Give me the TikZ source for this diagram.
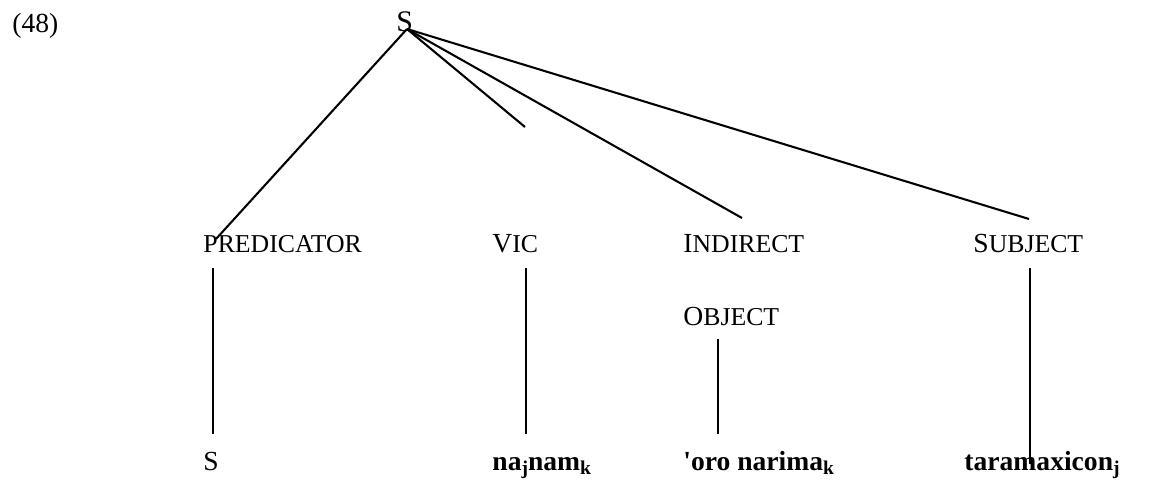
\documentclass[tikz,border=0pt]{standalone}
\usepackage{fontspec}
\setmainfont{Liberation Serif}

\newcommand{\petitcap}[2]{#1{\fontsize{11.2pt}{12pt}\selectfont #2}}
\newcommand{\indice}[1]{\raisebox{-0.25ex}{\fontsize{8.5pt}{10pt}\selectfont #1}}

\tikzset{etiq/.style = {inner sep = 0pt, anchor = base west,
                        font = \fontsize{12pt}{14pt}\selectfont},
         mot/.style  = {etiq, font = \fontsize{12pt}{14pt}\selectfont\bfseries},
         branche/.style = {line width = 0.9pt}
        }

\begin{document}
\begin{tikzpicture}[x=0.435pt, y=-0.435pt]
  \useasboundingbox (0,0) rectangle (1156,481);

  \node[etiq] (num)  at (12,33)  {(48)};
  \node[etiq, font=\fontsize{13pt}{14pt}\selectfont] (racine) at (396,32) {S};
  \coordinate (sommet) at (407,29);

  \node[etiq] (pred) at (203,253) {\petitcap{}{PREDICATOR}};
  \node[etiq] (vic)  at (492,253) {\petitcap{V}{IC}};
  \node[etiq] (ind)  at (683,253) {\petitcap{I}{NDIRECT}};
  \node[etiq] (obj)  at (683,326) {\petitcap{O}{BJECT}};
  \node[etiq] (suj)  at (973,253) {\petitcap{S}{UBJECT}};

  \node[etiq] (s)    at (203,471) {S};
  \node[mot]  (nam)  at (492,471) {na\indice{j}nam\indice{k}};
  \node[mot]  (oro)  at (683,471) {\textquotesingle oro narima\indice{k}};
  \node[mot]  (tar)  at (964,471) {taramaxicon\indice{j}};

  \coordinate (b1) at (216,239);
  \coordinate (b2) at (525,127);
  \coordinate (b3) at (742,218);
  \coordinate (b4) at (1029,219);

  \draw[branche] (sommet) -- (b1);
  \draw[branche] (sommet) -- (b2);
  \draw[branche] (sommet) -- (b3);
  \draw[branche] (sommet) -- (b4);

  \coordinate (h1) at (213,268);  \coordinate (f1) at (213,434);
  \coordinate (h2) at (526,268);  \coordinate (f2) at (526,434);
  \coordinate (h3) at (718,339);  \coordinate (f3) at (718,434);
  \coordinate (h4) at (1030,268); \coordinate (f4) at (1030,464);

  \draw[branche] (h1) -- (f1);
  \draw[branche] (h2) -- (f2);
  \draw[branche] (h3) -- (f3);
  \draw[branche] (h4) -- (f4);
\end{tikzpicture}
\end{document}
